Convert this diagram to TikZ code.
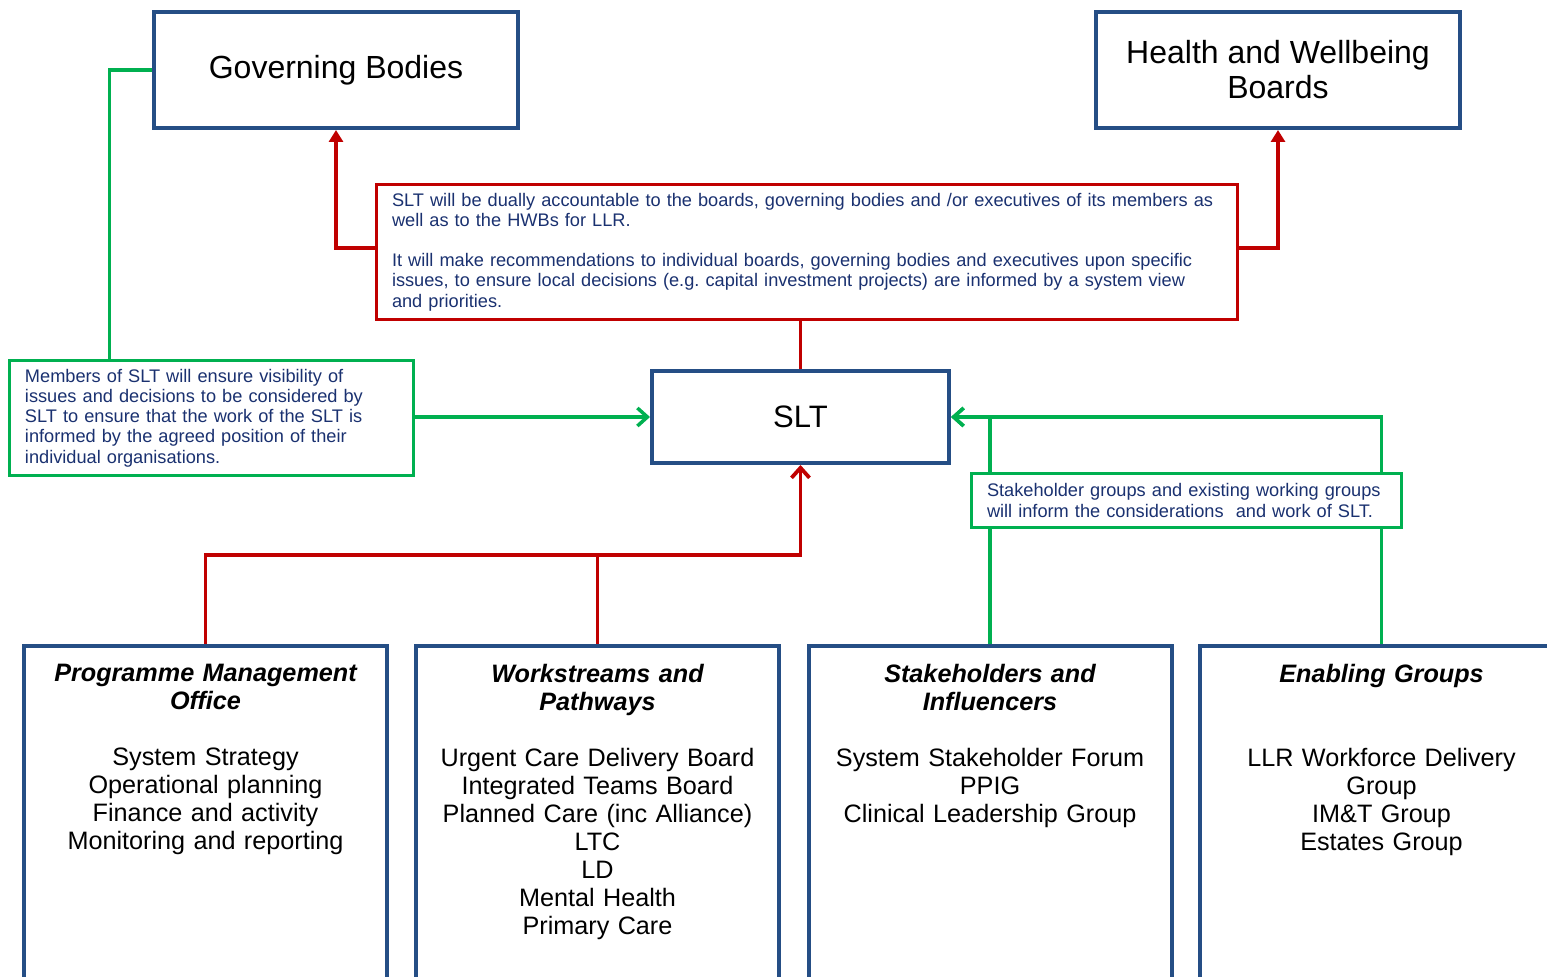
\documentclass[tikz,border=0pt]{standalone}
\usepackage{fontspec}
\setmainfont{Liberation Sans}
\usetikzlibrary{arrows.meta,calc}
\definecolor{boardblue}{HTML}{254E85}
\definecolor{slred}{HTML}{C00000}
\definecolor{slgreen}{HTML}{00B050}
\definecolor{notenavy}{HTML}{1A3170}

\begin{document}
\begin{tikzpicture}[x=0.5pt, y=-0.5pt,
  board/.style = {draw=boardblue, line width=2pt, fill=white, align=center, minimum width=182pt, minimum height=58pt, font=\fontsize{16pt}{17.5pt}\selectfont},
  group/.style = {draw=boardblue, line width=2pt, minimum width=181.5pt, minimum height=182pt},
  grouptext/.style = {text width=175pt, align=center, inner sep=0pt, anchor=north, font=\fontsize{12.6pt}{14pt}\selectfont},
  rednote/.style = {draw=slred, line width=1.9pt, fill=white, text=notenavy, align=left, inner xsep=7.75pt, font=\fontsize{9.1pt}{10.1pt}\selectfont},
  greennote/.style = {draw=slgreen, line width=1.75pt, fill=white, text=notenavy, align=left, inner xsep=7.75pt, font=\fontsize{9.1pt}{10.1pt}\selectfont},
  redlink/.style = {draw=slred, line width=1.9pt},
  greenlink/.style = {draw=slgreen, line width=1.75pt},
  barb/.style = {-{Straight Barb[width=9pt, length=5pt]}}]
  \useasboundingbox (0,0) rectangle (1547,977);
  \clip (0,0) rectangle (1547,977);
  % boards at the top
  \node[board] (gb) at (336,70) {Governing Bodies};
  \node[board] (hwb) at (1278,70) {Health and Wellbeing\\Boards};
  \node[rednote, minimum width=430.5pt, minimum height=67.5pt, text width=415pt] (accnote) at (807,252) {\mbox{SLT will be dually accountable to the boards, governing bodies and /or executives of its members as}\\well as to the HWBs for LLR.\\[10.1pt]\mbox{It will make recommendations to individual boards, governing bodies and executives upon specific}\\\mbox{issues, to ensure local decisions (e.g.\ capital investment projects) are informed by a system view}\\and priorities.};
  \node[board, minimum width=148.5pt, minimum height=46pt, font=\fontsize{15.5pt}{17pt}\selectfont] (slt) at (800.5,417) {SLT};
  \node[greennote, minimum width=202pt, minimum height=57.5pt, text width=186.5pt] (memnote) at (211.5,418) {Members of SLT will ensure visibility of\\issues and decisions to be considered by\\SLT to ensure that the work of the SLT is\\informed by the agreed position of their\\individual organisations.};
  % groups at the bottom
  \node[group] (pmo) at (205.5,828) {};
  \node[group] (ws) at (597.5,828) {};
  \node[group] (stake) at (990,828) {};
  \node[group] (enab) at (1381.5,828) {};
  \node[grouptext] (pmotxt) at ([yshift=-10pt]pmo.north) {{\bfseries\itshape Programme Management\\Office}\\[14pt]System Strategy\\Operational planning\\Finance and activity\\Monitoring and reporting};
  \node[grouptext] (wstxt) at ([yshift=-10pt]ws.north) {{\bfseries\itshape Workstreams and\\Pathways}\\[14pt]Urgent Care Delivery Board\\Integrated Teams Board\\Planned Care (inc Alliance)\\LTC\\LD\\Mental Health\\Primary Care};
  \node[grouptext] (staketxt) at ([yshift=-10pt]stake.north) {{\bfseries\itshape Stakeholders and\\Influencers}\\[14pt]System Stakeholder Forum\\PPIG\\Clinical Leadership Group};
  \node[grouptext] (enabtxt) at ([yshift=-10pt]enab.north) {{\bfseries\itshape Enabling Groups}\\[28pt]LLR Workforce Delivery\\Group\\IM\&T Group\\Estates Group};
  % connectors
  \coordinate (redjoin) at ($(slt.south)+(0,90)$);
  \draw[redlink, -{Triangle[width=7pt, length=6pt]}] ([yshift=2pt]accnote.west) -| (gb.south);
  \draw[redlink, -{Triangle[width=7pt, length=6pt]}] ([yshift=2pt]accnote.east) -| (hwb.south);
  \draw[redlink] (accnote.south -| slt.north) -- (slt.north);
  \draw[redlink, barb] (pmo.north) |- (redjoin) -- (slt.south);
  \draw[redlink] (ws.north) -- (ws.north |- redjoin);
  \draw[greenlink] (gb.west) -| ($(memnote.north west)!0.25!(memnote.north east)$);
  \draw[greenlink, barb] (memnote.east |- slt.west) -- (slt.west);
  \draw[greenlink, barb] (stake.north) |- (slt.east);
  \draw[greenlink, barb] (enab.north) |- (slt.east);
  \node[greennote, minimum width=215pt, minimum height=27pt, text width=199.5pt] (shnote) at (1186.5,500.5) {\mbox{Stakeholder groups and existing working groups}\\will inform the considerations\ \ and work of SLT.};
\end{tikzpicture}
\end{document}
